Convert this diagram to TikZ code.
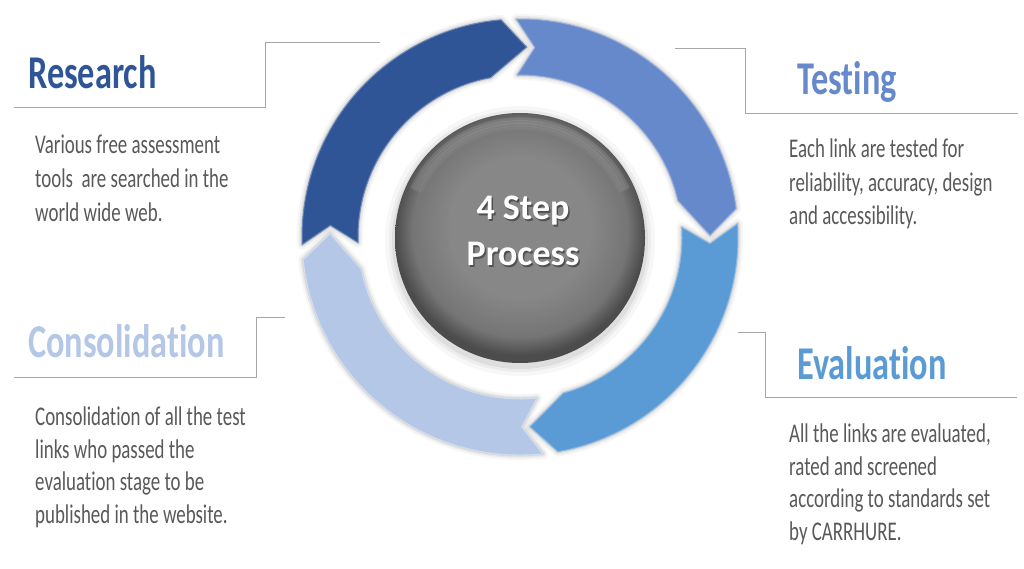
\documentclass[tikz,border=0pt]{standalone}
\usepackage{fontspec}
\setmainfont{Carlito}[Ligatures=NoCommon]
\newfontfamily\titlefont{Carlito}[FakeStretch=0.73,Ligatures=NoCommon]
\newfontfamily\bodyfont{Carlito}[FakeStretch=0.70,Ligatures=NoCommon]
\newfontfamily\ctrfont{Carlito}[Ligatures=NoCommon]
\definecolor{cresearch}{HTML}{2F5597}
\definecolor{ctesting}{HTML}{6689CC}
\definecolor{cevaluation}{HTML}{5B9BD5}
\definecolor{cconsol}{HTML}{B4C7E7}
\definecolor{bodygray}{HTML}{595959}
\definecolor{leadgray}{HTML}{A6A6A6}
\definecolor{ballA}{HTML}{878787}
\definecolor{ballB}{HTML}{757575}
\definecolor{ballC}{HTML}{4C4C4C}
\pgfdeclareradialshading{grayball}{\pgfpoint{0bp}{3bp}}{color(0bp)=(ballA); color(14bp)=(ballA); color(21.5bp)=(ballB); color(25bp)=(ballC); color(50bp)=(ballC)}
\newcommand\setarrow[2]{%
  \pgfmathsetmacro\aA{#1+0.5}%
  \pgfmathsetmacro\aB{#2+4.5}%
  \pgfmathsetmacro\aT{#2-2.5}%
  \pgfmathsetmacro\aC{#2+10}%
  \pgfmathsetmacro\aN{#1-5}%
}
\newcommand\arrowpath[1]{%
  \path[#1] (\aA:218) arc[start angle=\aA,end angle=\aB,radius=218] -- (\aT:190) -- (\aC:162) arc[start angle=\aC,end angle=\aA,radius=162] -- (\aN:190) -- cycle;%
}
\begin{document}
\begin{tikzpicture}[x=1pt,y=1pt,
  title/.style={anchor=base west,inner sep=0pt,font=\titlefont\bfseries\fontsize{47}{47}\selectfont},
  body/.style={anchor=base west,inner sep=0pt,text=bodygray,font=\bodyfont\fontsize{27}{27}\selectfont},
  lead/.style={draw=leadgray,line width=1pt},
  ctrtext/.style={anchor=base,inner sep=0pt,font=\ctrfont\bfseries\fontsize{36}{36}\selectfont}]
\useasboundingbox (0,0) rectangle (1024,568);
\fill[white] (0,0) rectangle (1024,568);

% lead lines
\coordinate (rA) at (14,460); \coordinate (rB) at (265,460); \coordinate (rC) at (265,525); \coordinate (rD) at (380,525);
\draw[lead] (rA) -- (rB) -- (rC) -- (rD);
\coordinate (tA) at (675,519); \coordinate (tB) at (745,519); \coordinate (tC) at (745,454); \coordinate (tD) at (1018,454);
\draw[lead] (tA) -- (tB) -- (tC) -- (tD);
\coordinate (cA) at (285,251); \coordinate (cB) at (256,251); \coordinate (cC) at (256,191); \coordinate (cD) at (14,191);
\draw[lead] (cA) -- (cB) -- (cC) -- (cD);
\coordinate (eA) at (738,236); \coordinate (eB) at (765,236); \coordinate (eC) at (765,171); \coordinate (eD) at (1017,171);
\draw[lead] (eA) -- (eB) -- (eC) -- (eD);

% cycle arrows
\begin{scope}[shift={(520,331)}]
  \foreach \jt/\jh in {181.5/90.5, 90.5/3, 3/-84.5, 275.5/181.5}{%
    \setarrow{\jt}{\jh}%
    \arrowpath{draw=black,opacity=0.035,line width=10pt,line join=round}%
    \arrowpath{draw=black,opacity=0.05,line width=6pt,line join=round}%
    \arrowpath{draw=black,opacity=0.07,line width=3pt,line join=round}%
  }
  \setarrow{181.5}{90.5}\arrowpath{fill=cresearch,draw=cresearch!70!white,line width=1pt,line join=round}
  \setarrow{90.5}{3}\arrowpath{fill=ctesting,draw=ctesting!70!white,line width=1pt,line join=round}
  \setarrow{3}{-84.5}\arrowpath{fill=cevaluation,draw=cevaluation!70!white,line width=1pt,line join=round}
  \setarrow{275.5}{181.5}\arrowpath{fill=cconsol,draw=cconsol!60!white,line width=1pt,line join=round}
\end{scope}

% central ball
\foreach \r/\o in {135/0.03,131/0.045,128/0.06}{\fill[black,opacity=\o] (520,327) circle (\r);}
\node[circle,minimum size=250pt,inner sep=0pt,shading=grayball] (core) at (520,330) {};
\foreach \r/\o in {119/0.10,116/0.10,113/0.08,110/0.05}{%
  \draw[white,opacity=\o,line width=3.5pt,line cap=round] (520,330) ++(155:\r) arc[start angle=155,end angle=25,radius=\r];}
\node[ctrtext,text=black,opacity=0.4] (s1) at (524.5,346.5) {4 Step};
\node[ctrtext,text=black,opacity=0.4] (s2) at (524.5,300.5) {Process};
\node[ctrtext,text=white] (t1) at (523,348) {4 Step};
\node[ctrtext,text=white] (t2) at (523,302) {Process};

% titles
\node[title,text=cresearch] (research) at (28,479) {Research};
\node[title,text=ctesting] (testing) at (797,473) {Testing};
\node[title,text=cconsol] (consolidation) at (28,211) {Consolidation};
\node[title,text=cevaluation] (evaluation) at (797,189) {Evaluation};

% body texts
\node[body] (r1) at (35,414) {Various free assessment};
\node[body] (r2) at (35,380) {tools\ \ are searched in the};
\node[body] (r3) at (35,346) {world wide web.};

\node[body] (e1t) at (789,410) {Each link are tested for};
\node[body] (e2t) at (789,376) {reliability, accuracy, design};
\node[body] (e3t) at (789,343) {and accessibility.};

\node[body] (c1) at (35,143) {Consolidation of all the test};
\node[body] (c2) at (35,110) {links who passed the};
\node[body] (c3) at (35,78) {evaluation stage to be};
\node[body] (c4) at (35,45) {published in the website.};

\node[body] (v1) at (789,126) {All the links are evaluated,};
\node[body] (v2) at (789,93) {rated and screened};
\node[body] (v3) at (789,61) {according to standards set};
\node[body] (v4) at (789,28) {by CARRHURE.};
\end{tikzpicture}
\end{document}
